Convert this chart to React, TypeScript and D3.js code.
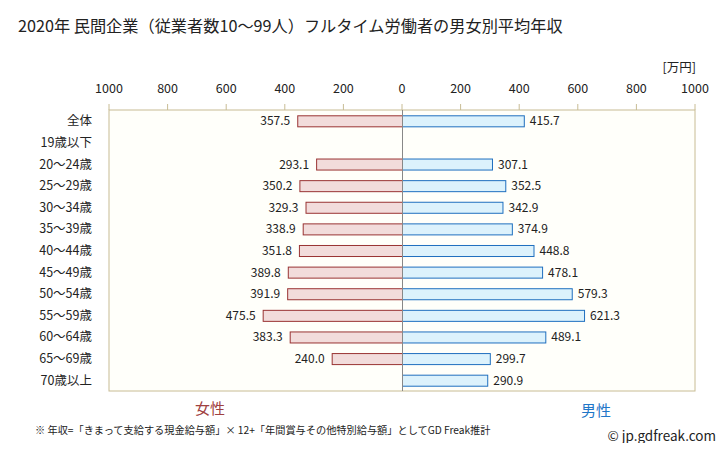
import React from 'react';
import * as d3 from 'd3';

const categories = ['全体', '19歳以下', '20～24歳', '25～29歳', '30～34歳', '35～39歳', '40～44歳', '45～49歳', '50～54歳', '55～59歳', '60～64歳', '65～69歳', '70歳以上'];
const femaleValues: (number | null)[] = [357.5, null, 293.1, 350.2, 329.3, 338.9, 351.8, 389.8, 391.9, 475.5, 383.3, 240.0, null];
const maleValues: (number | null)[] = [415.7, null, 307.1, 352.5, 342.9, 374.9, 448.8, 478.1, 579.3, 621.3, 489.1, 299.7, 290.9];
const tickValues = [-1000, -800, -600, -400, -200, 0, 200, 400, 600, 800, 1000];

const W = 728;
const H = 451;
const FONT = '"Noto Sans CJK JP", "Noto Sans", sans-serif';

export default function App() {
  const left = 109;
  const right = 695;
  const top = 110;
  const bottom = 391;

  const x = d3.scaleLinear().domain([-1000, 1000]).range([left, right]);
  const y = d3.scaleBand<string>().domain(categories).range([top, bottom]).paddingInner(0.49).paddingOuter(0.245);
  const x0 = x(0);

  return (
    <div style={{ margin: -8 }}>
      <svg width={W} height={H} style={{ display: 'block', background: '#fff' }} fontFamily={FONT}>
        <text x={18} y={32} fontSize={16.2} fill="#222">2020年 民間企業（従業者数10～99人）フルタイム労働者の男女別平均年収</text>
        <text x={696} y={72} fontSize={12.5} fill="#222" textAnchor="end">[万円]</text>

        {tickValues.map(t => (
          <g key={t}>
            <text x={x(t)} y={93} fontSize={12.5} fill="#222" textAnchor="middle">{Math.abs(t)}</text>
            <line x1={x(t)} x2={x(t)} y1={104} y2={top} stroke="#c8bc94" />
          </g>
        ))}

        <rect x={left} y={top} width={right - left} height={bottom - top} fill="#fffffa" stroke="#c8bc94" />

        {categories.map((c, i) => {
          const yy = y(c)!;
          const bh = y.bandwidth();
          const f = femaleValues[i];
          const m = maleValues[i];
          const cy = yy + bh / 2;
          return (
            <g key={c}>
              <text x={92} y={cy + 4.5} fontSize={12.5} fill="#222" textAnchor="end">{c}</text>
              {f != null && (
                <>
                  <rect x={x(-f) + 0.5} y={yy + 0.5} width={x0 - x(-f)} height={bh} fill="#f2dcdb" stroke="#993333" />
                  <text x={x(-f) - 7} y={cy + 4.5} fontSize={12} fill="#222" textAnchor="end">{f.toFixed(1)}</text>
                </>
              )}
              {m != null && (
                <>
                  <rect x={x0 + 0.5} y={yy + 0.5} width={x(m) - x0} height={bh} fill="#dcf2fc" stroke="#1f6fbf" />
                  <text x={x(m) + 6} y={cy + 4.5} fontSize={12} fill="#222">{m.toFixed(1)}</text>
                </>
              )}
            </g>
          );
        })}

        <line x1={x0 + 0.5} x2={x0 + 0.5} y1={top} y2={bottom} stroke="#888" />

        <text x={210} y={414} fontSize={15} fill="#a04040" textAnchor="middle">女性</text>
        <text x={596} y={416} fontSize={15} fill="#1f77c8" textAnchor="middle">男性</text>
        <text x={35} y={434} fontSize={10.2} fill="#222">※ 年収=「きまって支給する現金給与額」× 12+「年間賞与その他特別給与額」としてGD Freak推計</text>
        <text x={716} y={441} fontSize={13.5} fill="#222" textAnchor="end">© jp.gdfreak.com</text>
      </svg>
    </div>
  );
}
